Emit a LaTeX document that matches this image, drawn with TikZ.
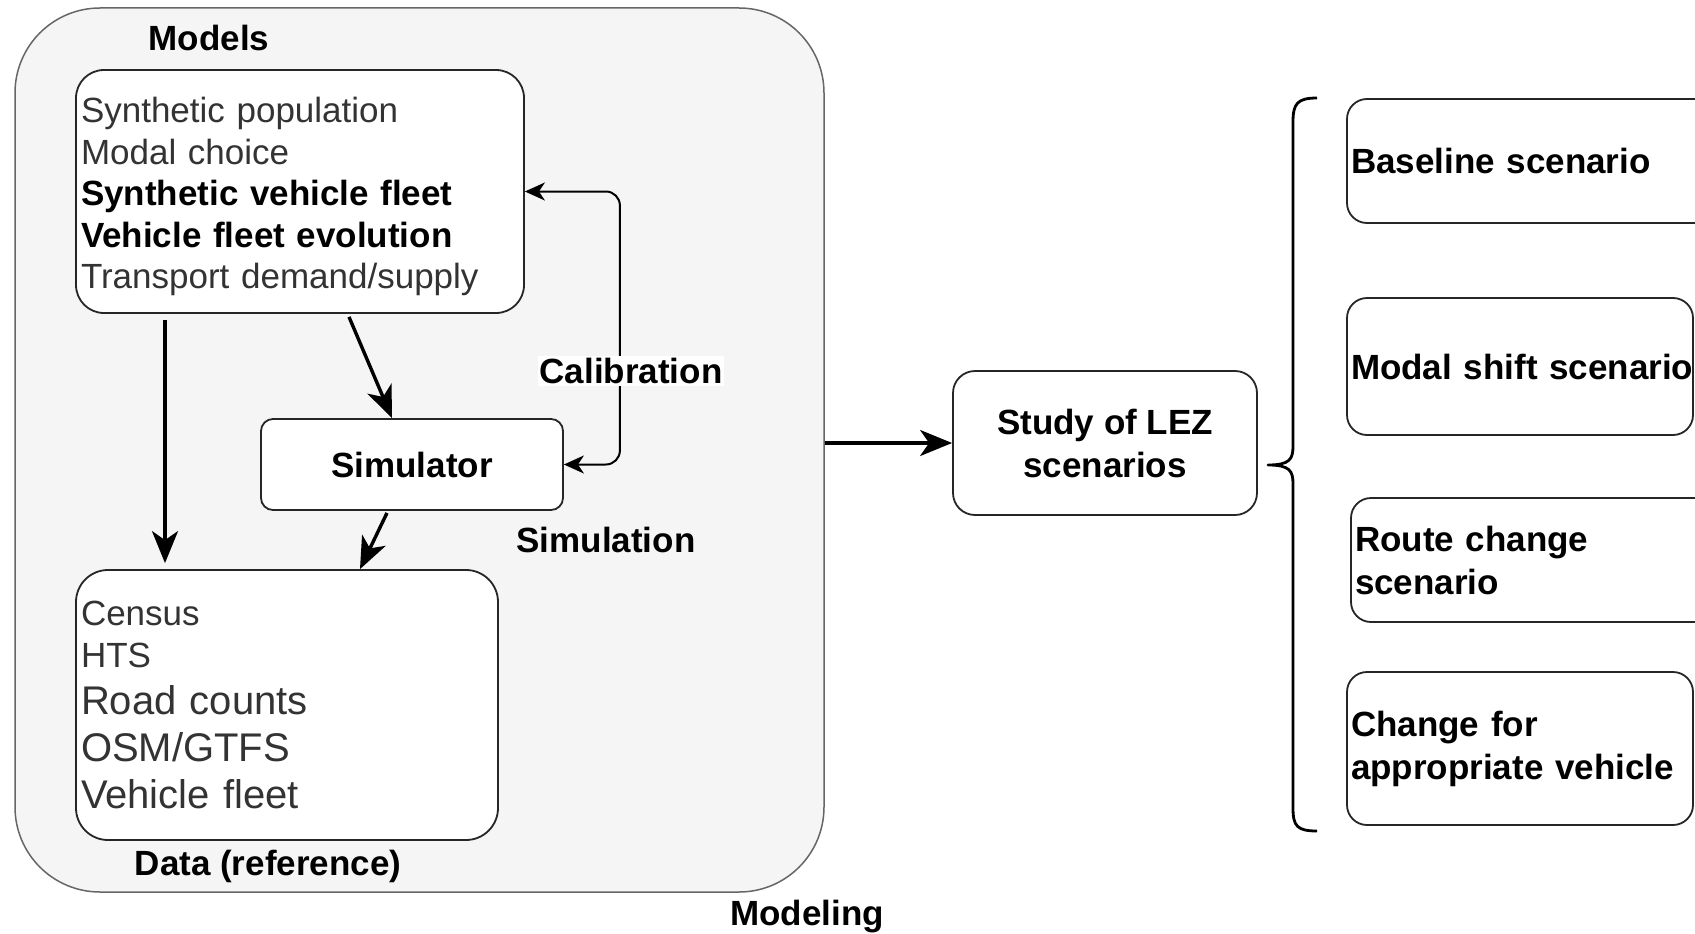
\documentclass[tikz,border=0pt]{standalone}
\usepackage{fontspec}
\setmainfont{Liberation Sans}
\usepackage{tikz}
\usetikzlibrary{arrows.meta,positioning}
\definecolor{groupfill}{HTML}{F5F5F5}
\definecolor{groupline}{HTML}{666666}
\definecolor{plaintext}{HTML}{333333}

\begin{document}
\begin{tikzpicture}[x=1pt,y=-1pt,
			grupo/.style={draw=groupline,fill=groupfill,line width=1.5pt,rounded corners=85pt},
			caja/.style={draw=black!85,fill=white,line width=1.8pt,inner sep=5pt,align=left},
			escena/.style={caja,rounded corners=20pt,inner sep=4pt,font=\fontsize{35}{43}\selectfont\bfseries},
			etiq/.style={font=\fontsize{35}{42}\selectfont\bfseries,inner sep=2pt},
			arr/.style={-{Stealth[length=32pt,width=26pt,inset=9pt]},line width=3.4pt},
			arrfino/.style={{Stealth[length=20pt,width=18pt,inset=6pt]}-{Stealth[length=20pt,width=18pt,inset=6pt]},line width=2pt,rounded corners=14pt},
			llave/.style={line width=2.8pt,line join=round}
			]
			\useasboundingbox (0,0) rectangle (1695,934);
			% modeling block
			\node[grupo,minimum width=809pt,minimum height=884pt] (grp) at (419.5,450) {};
			\node[etiq] (lmodels) at (209,38) {Models};
			\node[caja,rounded corners=28pt,minimum width=448pt,minimum height=243pt,text width=438pt,
				font=\fontsize{35}{41.5}\selectfont] (models) at (300,191.5)
				{\rule{0pt}{36pt}{\color{plaintext}Synthetic population\\Modal choice}\\
				\textbf{Synthetic vehicle fleet}\\\textbf{Vehicle fleet evolution}\\
				{\color{plaintext}Transport demand/supply}};
			\node[caja,rounded corners=12pt,minimum width=302pt,minimum height=91pt,
				font=\fontsize{35}{42}\selectfont\bfseries] (sim) at (412,464.5) {Simulator};
			\node[caja,rounded corners=32pt,minimum width=422pt,minimum height=270pt,text width=412pt,
				text=plaintext,font=\fontsize{40}{47}\selectfont] (data) at (287,705)
				{{\fontsize{35}{42}\selectfont Census\par HTS\par}Road counts\par OSM/GTFS\par Vehicle fleet};
			\node[etiq] (ldata) at (268,866) {Data (reference)};
			\node[etiq] (lsim) at (606,540) {Simulation};
			\node[etiq] (lmodeling) at (807,917) {Modeling};
			% study and scenarios
			\node[caja,rounded corners=22pt,minimum width=304pt,minimum height=144pt,align=center,
				font=\fontsize{35}{43}\selectfont\bfseries] (study) at (1105,443) {Study of LEZ\\scenarios};
			\node[escena,minimum width=373pt,minimum height=124pt,text width=365pt] (base) at (1533.5,161) {Baseline scenario};
			\node[escena,minimum width=346pt,minimum height=137pt,text width=338pt] (modal) at (1520,366.5) {\mbox{Modal shift scenario}};
			\node[escena,minimum width=369pt,minimum height=124pt,text width=361pt] (route) at (1535.5,560) {Route change\\scenario};
			\node[escena,minimum width=346pt,minimum height=153pt,text width=338pt] (change) at (1520,748.5) {Change for\\appropriate vehicle};
			% connectors
			\draw[arr] ([xshift=-135pt,yshift=-6pt]models.south) -- ([xshift=-122pt,yshift=6pt]data.north);
			\draw[arr] ([xshift=49pt,yshift=-3pt]models.south) -- ([xshift=-20pt]sim.north);
			\draw[arr] ([xshift=-25pt,yshift=-2pt]sim.south) -- ([xshift=73pt]data.north);
			\draw[arrfino] (sim.east) -- ++(56,0) |- (models.east);
			\node[etiq,fill=white] (lcalib) at (631,371) {Calibration};
			\draw[arr] (grp.east |- study.west) -- (study.west);
			\coordinate (tip) at (1268,465);
			\draw[llave] (1317,98) .. controls (1297,98) and (1293,104) .. (1293,122) -- (1293,446)
				.. controls (1293,459) and (1290,465) .. (tip)
				.. controls (1290,465) and (1293,471) .. (1293,484) -- (1293,808)
				.. controls (1293,826) and (1297,831) .. (1317,831);
		\end{tikzpicture}
\end{document}
